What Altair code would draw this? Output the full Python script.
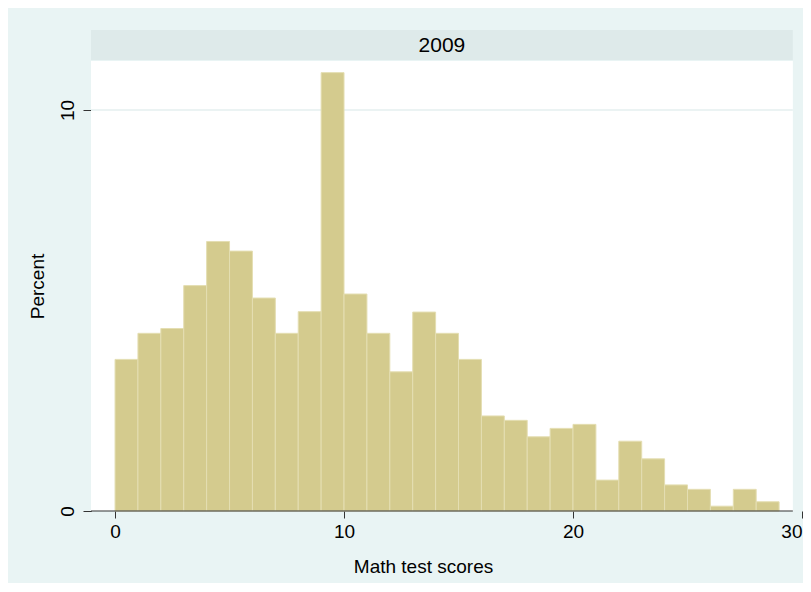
import altair as alt
import pandas as pd

# Histogram data (bin width 1, bins start at 0..28)
bin_start = list(range(29))
percent = [3.78, 4.43, 4.55, 5.62, 6.72, 6.48, 5.31, 4.43, 4.97, 10.93,
           5.41, 4.43, 3.47, 4.96, 4.43, 3.78, 2.37, 2.26, 1.85, 2.06,
           2.16, 0.77, 1.74, 1.30, 0.65, 0.54, 0.12, 0.54, 0.23]
x_ticks = [0, 10, 20, 30]
y_ticks = [0, 10]
panel_label = "2009"

X_MIN, X_MAX, X_PANEL_END = -1.05, 30.0, 29.6
Y_MAX = 11.22

FONT = "Liberation Sans"
BAR_FILL = "#D4CB8E"
BAR_EDGE = "#E4DEB2"
BG = "#E9F4F4"
STRIP = "#DEEAEA"
GRID = "#E4EFEF"
AXIS = "#333333"

bars_df = pd.DataFrame({"x": bin_start, "x2": [b + 1 for b in bin_start], "y": percent})
panel_df = pd.DataFrame({"x": [X_MIN], "x2": [X_PANEL_END], "y": [0.0], "y2": [Y_MAX]})
grid_df = pd.DataFrame({"x": [X_MIN], "x2": [X_PANEL_END], "y": [10.0]})
axis_df = pd.DataFrame({"x": [X_MIN], "x2": [X_PANEL_END], "y": [0.0]})
strip_df = pd.DataFrame({"x": [X_MIN], "x2": [X_PANEL_END], "mid": [(X_MIN + X_PANEL_END) / 2], "label": [panel_label]})

xs = alt.Scale(domain=[X_MIN, X_MAX], nice=False, zero=False)
ys = alt.Scale(domain=[0, Y_MAX], nice=False, zero=False)

ax_x = alt.Axis(values=x_ticks, format="d", grid=False, domain=False,
                tickSize=7, tickColor=AXIS, tickWidth=1,
                labelPadding=4, labelFontSize=19, labelColor="#000", labelFont=FONT,
                title="Math test scores", titleFontSize=19, titleFont=FONT,
                titleFontWeight="normal", titleColor="#000",
                titleX=332, titleY=61, titleAlign="center", titleBaseline="alphabetic")
ax_y = alt.Axis(values=y_ticks, format="d", grid=False, domain=True,
                domainColor=AXIS, tickSize=8, tickColor=AXIS,
                labelAngle=270, labelAlign="center", labelBaseline="alphabetic",
                labelPadding=10, labelFontSize=19, labelColor="#000", labelFont=FONT,
                title="Percent", titleFontSize=19, titleFont=FONT,
                titleFontWeight="normal", titleColor="#000",
                titleAngle=270, titleX=-48, titleY=225, titleAlign="center",
                titleBaseline="alphabetic")

X = lambda f: alt.X(f, scale=xs, axis=ax_x)
Y = lambda f: alt.Y(f, scale=ys, axis=ax_y)

W, H = 711, 450

panel = alt.Chart(panel_df).mark_rect(fill="white").encode(
    x=X("x:Q"), x2="x2:Q", y=Y("y:Q"), y2="y2:Q")

grid = alt.Chart(grid_df).mark_rule(color=GRID, strokeWidth=1.5).encode(
    x=X("x:Q"), x2="x2:Q", y=Y("y:Q"))

bars = alt.Chart(bars_df).mark_rect(fill=BAR_FILL, stroke=BAR_EDGE, strokeWidth=1).encode(
    x=X("x:Q"), x2="x2:Q", y=Y("y:Q"), y2=alt.datum(0))

xaxis_line = alt.Chart(axis_df).mark_rule(color=AXIS, strokeWidth=1.2).encode(
    x=X("x:Q"), x2="x2:Q", y=Y("y:Q"))

strip = alt.Chart(strip_df).mark_rect(fill=STRIP, clip=False).encode(
    x=X("x:Q"), x2="x2:Q", y=alt.value(-31), y2=alt.value(-1))

strip_text = alt.Chart(strip_df).mark_text(font=FONT, fontSize=21, color="#000",
                                           baseline="middle", align="center", clip=False).encode(
    x=X("mid:Q"), y=alt.value(-15), text="label:N")

chart = alt.layer(panel, grid, bars, xaxis_line, strip, strip_text).properties(
    width=W, height=H,
    background=BG,
    padding={"left": 83, "top": 53, "right": 1, "bottom": 72},
    autosize=alt.AutoSizeParams(type="none"),
).configure_view(stroke=None, fill=None)

chart.save("out.html", embed_options={"renderer": "svg", "actions": False})
